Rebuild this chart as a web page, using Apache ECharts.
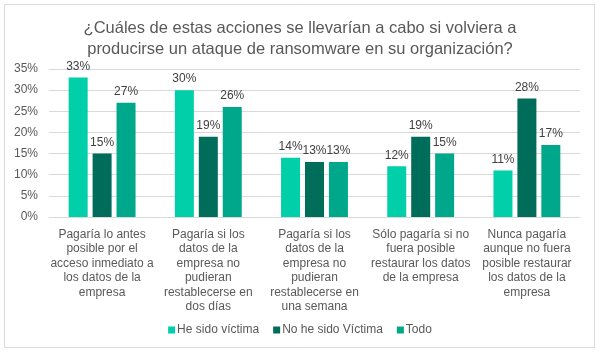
<!DOCTYPE html>
<html>
<head>
<meta charset="utf-8">
<script src="https://cdn.jsdelivr.net/npm/echarts@6/dist/echarts.min.js"></script>
<style>
html, body { margin: 0; padding: 0; background: #fff; }
#main { width: 600px; height: 353px; }
</style>
</head>
<body>
<div id="main"></div>
<script>
// datos
var categorias = [
  'Pagaría lo antes\nposible por el\nacceso inmediato a\nlos datos de la\nempresa',
  'Pagaría si los\ndatos de la\nempresa no\npudieran\nrestablecerse en\ndos días',
  'Pagaría si los\ndatos de la\nempresa no\npudieran\nrestablecerse en\nuna semana',
  'Sólo pagaría si no\nfuera posible\nrestaurar los datos\nde la empresa',
  'Nunca pagaría\naunque no fuera\nposible restaurar\nlos datos de la\nempresa'
];
var heSidoVictima = [33, 30, 14, 12, 11];
var noHeSidoVictima = [15, 19, 13, 19, 28];
var todo = [27, 26, 13, 15, 17];
var nombresSeries = ['He sido víctima', 'No he sido Víctima', 'Todo'];
var colores = ['#00CFAA', '#006D5A', '#00A88B'];

var fuente = '"Liberation Sans", Arial, sans-serif';

function serie(nombre, datos, color) {
  return {
    name: nombre,
    type: 'bar',
    data: datos,
    barWidth: 19,
    barGap: '26%',
    itemStyle: { color: color },
    label: {
      show: true,
      position: 'top',
      distance: 5,
      formatter: '{c}%',
      color: '#404040',
      fontSize: 12,
      fontFamily: fuente
    }
  };
}

var chart = echarts.init(document.getElementById('main'));
chart.setOption({
  animation: false,
  textStyle: { fontFamily: fuente },
  color: colores,
  title: {
    text: '¿Cuáles de estas acciones se llevarían a cabo si volviera a\nproducirse un ataque de ransomware en su organización?',
    left: 'center',
    top: 13,
    textStyle: {
      fontSize: 16.5,
      fontWeight: 'normal',
      color: '#595959',
      lineHeight: 21,
      fontFamily: fuente
    }
  },
  graphic: [{
    type: 'rect',
    shape: { x: 4.5, y: 4.5, width: 590, height: 343 },
    style: { fill: 'none', stroke: '#D9D9D9', lineWidth: 1 },
    silent: true
  }],
  legend: {
    data: nombresSeries,
    bottom: 12,
    left: 'center',
    icon: 'rect',
    itemWidth: 7,
    itemHeight: 7,
    itemGap: 14,
    textStyle: { fontSize: 12, color: '#595959', fontFamily: fuente, padding: [0, 0, 0, -3] }
  },
  grid: { left: 49, right: 20, top: 69, bottom: 136, containLabel: false },
  xAxis: {
    type: 'category',
    data: categorias,
    axisLine: { lineStyle: { color: '#D9D9D9' } },
    axisTick: { show: false },
    axisLabel: {
      interval: 0,
      margin: 10,
      fontSize: 12,
      lineHeight: 14.5,
      color: '#595959',
      fontFamily: fuente
    }
  },
  yAxis: {
    type: 'value',
    min: 0,
    max: 35,
    interval: 5,
    axisLine: { show: false },
    axisTick: { show: false },
    splitLine: { lineStyle: { color: '#D9D9D9' } },
    axisLabel: {
      formatter: '{value}%',
      margin: 11,
      fontSize: 12,
      color: '#595959',
      fontFamily: fuente
    }
  },
  series: [
    serie(nombresSeries[0], heSidoVictima, colores[0]),
    serie(nombresSeries[1], noHeSidoVictima, colores[1]),
    serie(nombresSeries[2], todo, colores[2])
  ]
});
</script>
</body>
</html>
